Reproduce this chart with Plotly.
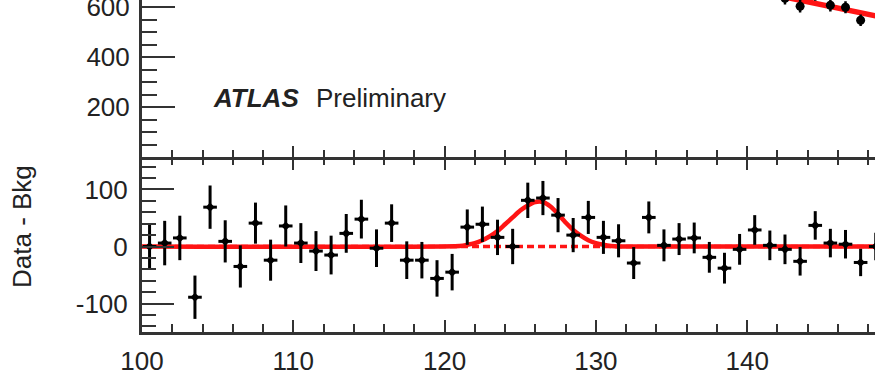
import plotly.graph_objects as go

# ---------------- data ----------------
mass_bins = [100.5, 101.5, 102.5, 103.5, 104.5, 105.5, 106.5, 107.5, 108.5, 109.5,
             110.5, 111.5, 112.5, 113.5, 114.5, 115.5, 116.5, 117.5, 118.5, 119.5,
             120.5, 121.5, 122.5, 123.5, 124.5, 125.5, 126.5, 127.5, 128.5, 129.5,
             130.5, 131.5, 132.5, 133.5, 134.5, 135.5, 136.5, 137.5, 138.5, 139.5,
             140.5, 141.5, 142.5, 143.5, 144.5, 145.5, 146.5, 147.5, 148.5]
residuals = [0, 6, 15, -89, 69, 9, -35, 41, -24, 36,
             6, -8, -15, 23, 48, -3, 41, -24, -24, -56,
             -45, 34, 39, 16, 0, 81, 85, 55, 20, 51,
             16, 10, -29, 51, 2, 13, 15, -19, -38, -5,
             29, 2, -5, -26, 37, 6, 4, -28, 0]
residual_err = [39, 39, 39, 38, 38, 37, 37, 36, 36, 36,
                35, 35, 34, 34, 34, 33, 33, 33, 32, 32,
                32, 31, 31, 31, 31, 31, 30, 30, 30, 29,
                29, 29, 28, 28, 28, 28, 27, 27, 27, 27,
                26, 26, 26, 25, 25, 25, 25, 24, 24]
bin_half_width = [0.45] * len(mass_bins)

# signal + background fit minus background (bottom panel)
sig_x = [100.0, 121.0, 121.5, 122.0, 122.5, 123.0, 123.5, 124.0, 124.5, 125.0,
         125.5, 126.0, 126.5, 127.0, 127.5, 128.0, 128.5, 129.0, 129.5, 130.0,
         130.5, 131.0, 131.5, 149.0]
sig_y = [0, 1, 3, 6, 11, 18, 27, 39, 51, 63,
         72, 78, 78, 70, 57, 42, 29, 19, 11, 6,
         3, 1, 0, 0]
bkg_zero_x = [100.0, 149.0]
bkg_zero_y = [0, 0]

# top panel (events / bin): only the visible part
top_bins = [142.5, 143.5, 144.5, 145.5, 146.5, 147.5]
top_events = [636, 604, 651, 608, 600, 548]
top_err = [25, 25, 25, 25, 24, 23]
bkg_x = [140, 141, 142, 143, 144, 145, 146, 147, 148, 149]
bkg_y = [672, 659, 646, 633, 620, 607, 595, 583, 571, 559]

x_range = [100, 148.45]
resid_tick_vals = [-100, 0, 100]
resid_tick_text = ["-100", "0", "100"]
top_tick_vals = [200, 400, 600]
top_tick_text = ["200", "400", "600"]

# ---------------- figure ----------------
FONT = "Liberation Sans, Arial, Helvetica, sans-serif"
AX = "#333333"
TXT = "#222222"
RED = "#ff1414"

fig = go.Figure()

# bottom panel
fig.add_trace(go.Scatter(x=bkg_zero_x, y=bkg_zero_y, mode="lines",
                         line=dict(color=RED, width=3.5, dash="7px,4px"),
                         xaxis="x", yaxis="y", hoverinfo="skip", showlegend=False))
fig.add_trace(go.Scatter(x=sig_x, y=sig_y, mode="lines",
                         line=dict(color=RED, width=4.5, shape="spline", smoothing=0.6),
                         xaxis="x", yaxis="y", showlegend=False))
fig.add_trace(go.Scatter(x=mass_bins, y=residuals, mode="markers",
                         marker=dict(color="black", size=7, symbol="diamond"),
                         error_y=dict(type="data", array=residual_err, color="black",
                                      thickness=3, width=0),
                         error_x=dict(type="data", array=bin_half_width, color="black",
                                      thickness=3, width=0),
                         xaxis="x", yaxis="y", showlegend=False))

# top panel
fig.add_trace(go.Scatter(x=bkg_x, y=bkg_y, mode="lines",
                         line=dict(color=RED, width=5.5),
                         xaxis="x2", yaxis="y2", showlegend=False))
fig.add_trace(go.Scatter(x=top_bins, y=top_events, mode="markers",
                         marker=dict(color="black", size=9, symbol="circle"),
                         error_y=dict(type="data", array=top_err, color="black",
                                      thickness=2.5, width=0),
                         xaxis="x2", yaxis="y2", showlegend=False))

split = 175 / 332

common_x = dict(range=x_range, tick0=100, dtick=10, showgrid=False, zeroline=False,
                tickcolor=AX, tickwidth=2, ticks="inside", automargin=False)

fig.update_layout(
    width=875, height=379,
    margin=dict(l=142, r=0, t=0, b=47),
    paper_bgcolor="white", plot_bgcolor="white",
    font=dict(family=FONT, color=TXT, size=26),
    xaxis=dict(**common_x, anchor="y", domain=[0, 1], ticklen=12,
               showline=True, linecolor=AX, linewidth=3,
               minor=dict(dtick=2, ticklen=8, ticks="inside", tickcolor=AX, tickwidth=2),
               tickfont=dict(size=26, color=TXT), ticklabelstandoff=4),
    xaxis3=dict(**common_x, anchor="y", overlaying="x", side="top", ticklen=13,
                showline=False, showticklabels=False,
                minor=dict(dtick=2, ticklen=8, ticks="inside", tickcolor=AX, tickwidth=2)),
    xaxis2=dict(**common_x, anchor="y2", domain=[0, 1], ticklen=11,
                showline=True, linecolor=AX, linewidth=3, showticklabels=False,
                minor=dict(dtick=2, ticklen=7, ticks="inside", tickcolor=AX, tickwidth=2)),
    yaxis=dict(domain=[0, split], range=[-150, 157], anchor="x", automargin=False,
               tickmode="array", tickvals=resid_tick_vals, ticktext=resid_tick_text,
               ticks="inside", ticklen=32, tickwidth=2, tickcolor=AX,
               showline=True, linecolor=AX, linewidth=3, showgrid=False, zeroline=False,
               minor=dict(tickmode="linear", tick0=0, dtick=20, ticklen=14, ticks="inside",
                          tickcolor=AX, tickwidth=2),
               tickfont=dict(size=26, color=TXT), ticklabelstandoff=6),
    yaxis2=dict(domain=[split, 1], range=[1, 629], anchor="x2", automargin=False,
                tickmode="array", tickvals=top_tick_vals, ticktext=top_tick_text,
                ticks="inside", ticklen=33, tickwidth=2, tickcolor=AX,
                showline=True, linecolor=AX, linewidth=3, showgrid=False, zeroline=False,
                minor=dict(tickmode="linear", tick0=0, dtick=50, ticklen=15, ticks="inside",
                           tickcolor=AX, tickwidth=2),
                tickfont=dict(size=26, color=TXT), ticklabelstandoff=4,
                ticklabeloverflow="allow"),
)

# dummy trace so xaxis3 is drawn
fig.add_trace(go.Scatter(x=[None], y=[None], xaxis="x3", yaxis="y", showlegend=False))

fig.add_annotation(text="Data - Bkg", textangle=-90, xref="paper", yref="paper",
                   x=(22 - 142) / 733, y=(332 - 226) / 332, xanchor="center", yanchor="middle",
                   showarrow=False, font=dict(size=26, color=TXT, family=FONT))
fig.add_annotation(text="<b><i>ATLAS</i></b>", xref="paper", yref="paper",
                   x=(211 - 142) / 733, y=(332 - 98) / 332, xanchor="left", yanchor="middle",
                   showarrow=False, font=dict(size=26, color=TXT, family=FONT))
fig.add_annotation(text="Preliminary", xref="paper", yref="paper",
                   x=(314 - 142) / 733, y=(332 - 98) / 332, xanchor="left", yanchor="middle",
                   showarrow=False, font=dict(size=26, color=TXT, family=FONT))

fig.write_html("out.html")
